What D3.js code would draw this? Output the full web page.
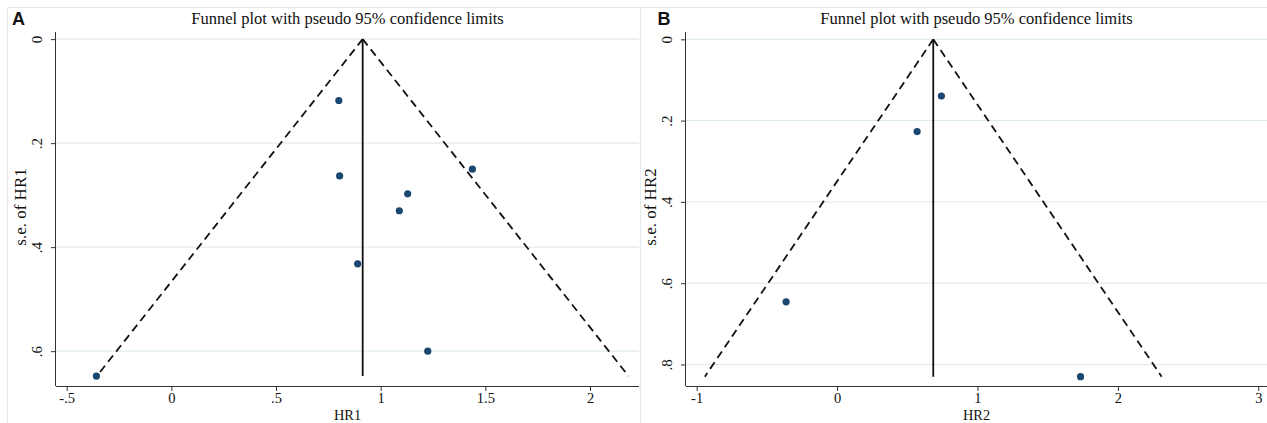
<!DOCTYPE html>
<html>
<head>
<meta charset="utf-8">
<script src="https://cdn.jsdelivr.net/npm/d3@7"></script>
<style>
  html, body { margin: 0; padding: 0; background: #fff; }
  svg { display: block; }
</style>
</head>
<body>
<svg id="chart" width="1267" height="423"></svg>
<script>
// Panel A: pooled estimate, study estimates and their standard errors
const hr1 = [0.80, 0.804, 1.438, 1.129, 1.089, 0.890, 1.225, -0.358];
const se1 = [0.118, 0.263, 0.250, 0.2975, 0.330, 0.432, 0.600, 0.648];
const theta1 = 0.914;
const xTicks1 = [-0.5, 0, 0.5, 1, 1.5, 2];
const xTickLabels1 = ["-.5", "0", ".5", "1", "1.5", "2"];
const yTicks1 = [0, 0.2, 0.4, 0.6];
const yTickLabels1 = ["0", ".2", ".4", ".6"];

// Panel B
const hr2 = [0.743, 0.570, -0.363, 1.734];
const se2 = [0.1395, 0.227, 0.646, 0.830];
const theta2 = 0.685;
const xTicks2 = [-1, 0, 1, 2, 3];
const xTickLabels2 = ["-1", "0", "1", "2", "3"];
const yTicks2 = [0, 0.2, 0.4, 0.6, 0.8];
const yTickLabels2 = ["0", ".2", ".4", ".6", ".8"];

const z = 1.96;
const svg = d3.select("#chart");
const serif = "'Liberation Serif', 'Times New Roman', serif";

// light outer frames of the two graph regions
const frame = svg.append("g").attr("stroke", "#e3ebee").attr("stroke-width", 1).attr("fill", "none");
frame.append("line").attr("x1", 7).attr("x2", 1267).attr("y1", 7.5).attr("y2", 7.5);
frame.append("line").attr("x1", 7.5).attr("x2", 7.5).attr("y1", 7).attr("y2", 423);
frame.append("line").attr("x1", 640.5).attr("x2", 640.5).attr("y1", 7).attr("y2", 423);

function panel(cfg) {
  const x = d3.scaleLinear().domain(cfg.xDomain).range([cfg.left, cfg.right]);
  const y = d3.scaleLinear().domain(cfg.yDomain).range([cfg.top, cfg.bottom]);
  const g = svg.append("g");

  // horizontal grid lines
  g.append("g").selectAll("line").data(cfg.yTicks).join("line")
    .attr("x1", cfg.left).attr("x2", cfg.right)
    .attr("y1", d => y(d)).attr("y2", d => y(d))
    .attr("stroke", "#dae7ee").attr("stroke-width", 1);

  // panel letter and title
  g.append("text").attr("x", cfg.letterX).attr("y", 25)
    .attr("font-family", "'Liberation Sans', Arial, sans-serif")
    .attr("font-weight", "bold").attr("font-size", 18).attr("fill", "#111")
    .text(cfg.letter);
  g.append("text").attr("x", (cfg.left + cfg.right) / 2).attr("y", 23.5)
    .attr("text-anchor", "middle").attr("font-family", serif).attr("font-size", 16.5)
    .attr("fill", "#111").text("Funnel plot with pseudo 95% confidence limits");

  // axes
  const xAxis = d3.axisBottom(x).tickValues(cfg.xTicks).tickSize(5).tickPadding(2)
    .tickFormat((d, i) => cfg.xTickLabels[i]);
  const gx = g.append("g").attr("transform", `translate(0,${cfg.bottom})`).call(xAxis);
  gx.select(".domain").attr("d", `M${cfg.left},0.5H${cfg.right}`).attr("stroke", "#333");
  gx.selectAll(".tick line").attr("stroke", "#333");
  gx.selectAll(".tick text").attr("font-family", serif).attr("font-size", 14.5).attr("fill", "#111");

  const yAxis = d3.axisLeft(y).tickValues(cfg.yTicks).tickSize(5).tickPadding(0)
    .tickFormat((d, i) => cfg.yTickLabels[i]);
  const gy = g.append("g").attr("transform", `translate(${cfg.left},0)`).call(yAxis);
  gy.select(".domain").attr("d", `M-0.5,${cfg.top}V${cfg.bottom}`).attr("stroke", "#333");
  gy.selectAll(".tick line").attr("stroke", "#333");
  gy.selectAll(".tick text")
    .attr("font-family", serif).attr("font-size", 15).attr("fill", "#111")
    .attr("x", null).attr("dy", null)
    .attr("text-anchor", "middle")
    .attr("transform", "translate(-14,0) rotate(-90)");

  // axis titles
  g.append("text").attr("x", (cfg.left + cfg.right) / 2).attr("y", 419.8)
    .attr("text-anchor", "middle").attr("font-family", serif).attr("font-size", 14.4)
    .attr("fill", "#111").text(cfg.xTitle);
  g.append("text")
    .attr("transform", `translate(${cfg.left - 30},${(cfg.top + cfg.bottom) / 2 - 2}) rotate(-90)`)
    .attr("text-anchor", "middle").attr("font-family", serif).attr("font-size", 17)
    .attr("fill", "#111").text(cfg.yTitle);

  // pseudo 95% confidence limits
  const seMax = d3.max(cfg.se);
  const line = d3.line().x(d => x(d[0])).y(d => y(d[1]));
  const lims = [
    [[cfg.theta, 0], [cfg.theta - z * seMax, seMax]],
    [[cfg.theta, 0], [cfg.theta + z * seMax, seMax]]
  ];
  g.append("g").selectAll("path").data(lims).join("path")
    .attr("d", line).attr("fill", "none").attr("stroke", "#111")
    .attr("stroke-width", 1.8).attr("stroke-dasharray", "8,5");

  // pooled estimate
  g.append("path").attr("d", line([[cfg.theta, 0], [cfg.theta, seMax]]))
    .attr("stroke", "#111").attr("stroke-width", 1.8).attr("fill", "none");

  // studies
  g.append("g").selectAll("circle").data(cfg.hr.map((h, i) => [h, cfg.se[i]])).join("circle")
    .attr("cx", d => x(d[0])).attr("cy", d => y(d[1])).attr("r", 3.6)
    .attr("fill", "#1a476f");
}

panel({
  letter: "A", letterX: 12, hr: hr1, se: se1, theta: theta1,
  xDomain: [-0.551, 2.234], yDomain: [-0.0137, 0.667],
  left: 56, right: 639, top: 32, bottom: 386,
  xTicks: xTicks1, xTickLabels: xTickLabels1,
  yTicks: yTicks1, yTickLabels: yTickLabels1,
  xTitle: "HR1", yTitle: "s.e. of HR1"
});

panel({
  letter: "B", letterX: 657.5, hr: hr2, se: se2, theta: theta2,
  xDomain: [-1.076, 3.062], yDomain: [-0.018, 0.853],
  left: 686, right: 1267, top: 32, bottom: 386,
  xTicks: xTicks2, xTickLabels: xTickLabels2,
  yTicks: yTicks2, yTickLabels: yTickLabels2,
  xTitle: "HR2", yTitle: "s.e. of HR2"
});
</script>
</body>
</html>
